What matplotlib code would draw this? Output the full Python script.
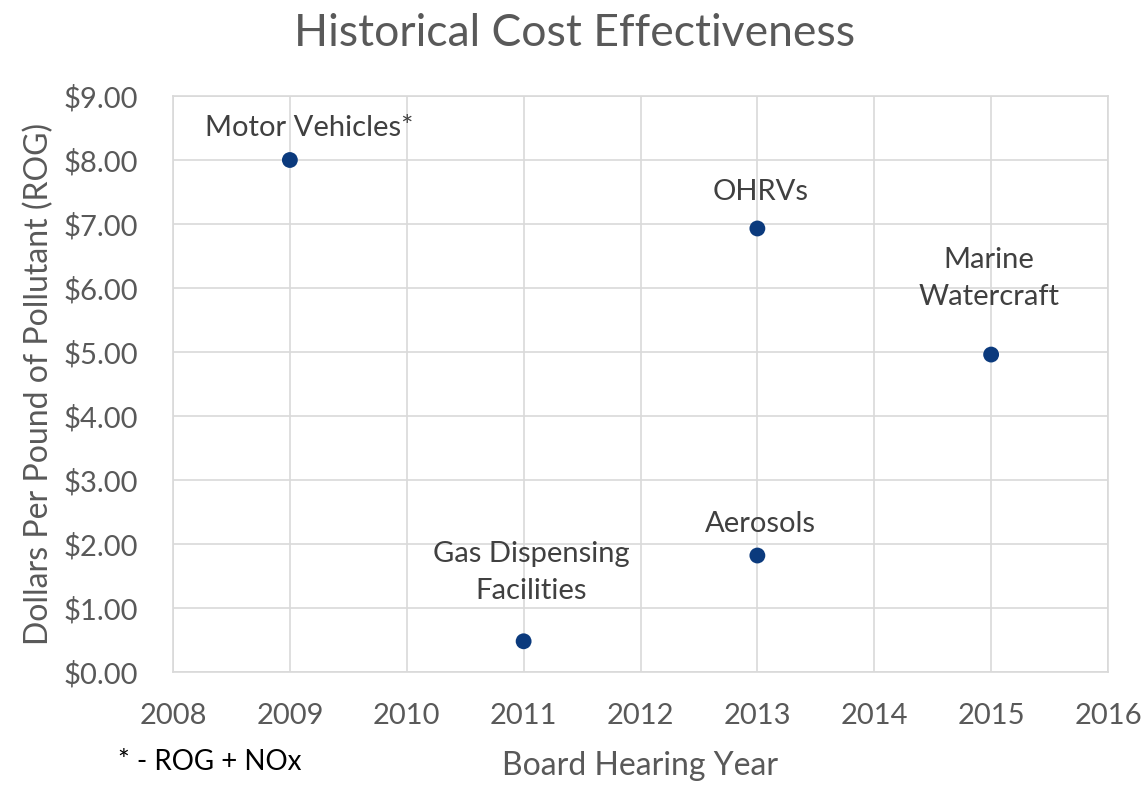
import matplotlib
matplotlib.use("Agg")
import matplotlib.pyplot as plt

years = [2009, 2011, 2013, 2013, 2015]
costs = [8.00, 0.48, 6.93, 1.82, 4.96]
labels = ["Motor Vehicles*", "Gas Dispensing\nFacilities", "OHRVs", "Aerosols", "Marine\nWatercraft"]
# label offsets in pixels (dx, dy) relative to point
offsets = [(19, 32), (8, 69), (3, 36), (3, 32), (-2, 76)]

plt.rcParams['font.family'] = ['Lato', 'DejaVu Sans']

fig = plt.figure(figsize=(11.45, 7.99), dpi=100)
ax = fig.add_axes([173/1145, 1-672/799, (1108-173)/1145, (672-96)/799])

ax.scatter(years, costs, s=130, color='#0b3a7d', zorder=3, edgecolors='none')
for x, y, t, (dx, dy) in zip(years, costs, labels, offsets):
    ax.annotate(t, (x, y), xytext=(dx, dy), textcoords='offset pixels',
                ha='center', va='center', fontsize=21, color='#404040',
                linespacing=1.5)

ax.set_xlim(2008, 2016)
ax.set_ylim(0, 9)
ax.set_xticks(range(2008, 2017))
ax.set_yticks(range(0, 10))
ax.set_yticklabels([f"${v:.2f}" for v in range(0, 10)])
ax.grid(True, color='#d9d9d9', linewidth=1.2)
ax.set_axisbelow(True)
for s in ax.spines.values():
    s.set_color('#d9d9d9')
    s.set_linewidth(1.2)
ax.tick_params(length=0, labelsize=21, labelcolor='#595959')
ax.tick_params(axis='y', pad=25)
ax.tick_params(axis='x', pad=22)

ax.set_xlabel("Board Hearing Year", fontsize=23, color='#595959', labelpad=16)
ax.set_ylabel("Dollars Per Pound of Pollutant (ROG)", fontsize=23, color='#595959', labelpad=7)
fig.text(575/1145, 1-33/799, "Historical Cost Effectiveness", ha='center', va='center',
         fontsize=32, color='#595959')
fig.text(118/1145, 1-762/799, "* - ROG + NOx", ha='left', va='center', fontsize=20, color='#000000')

fig.savefig("out.png", dpi=100)
